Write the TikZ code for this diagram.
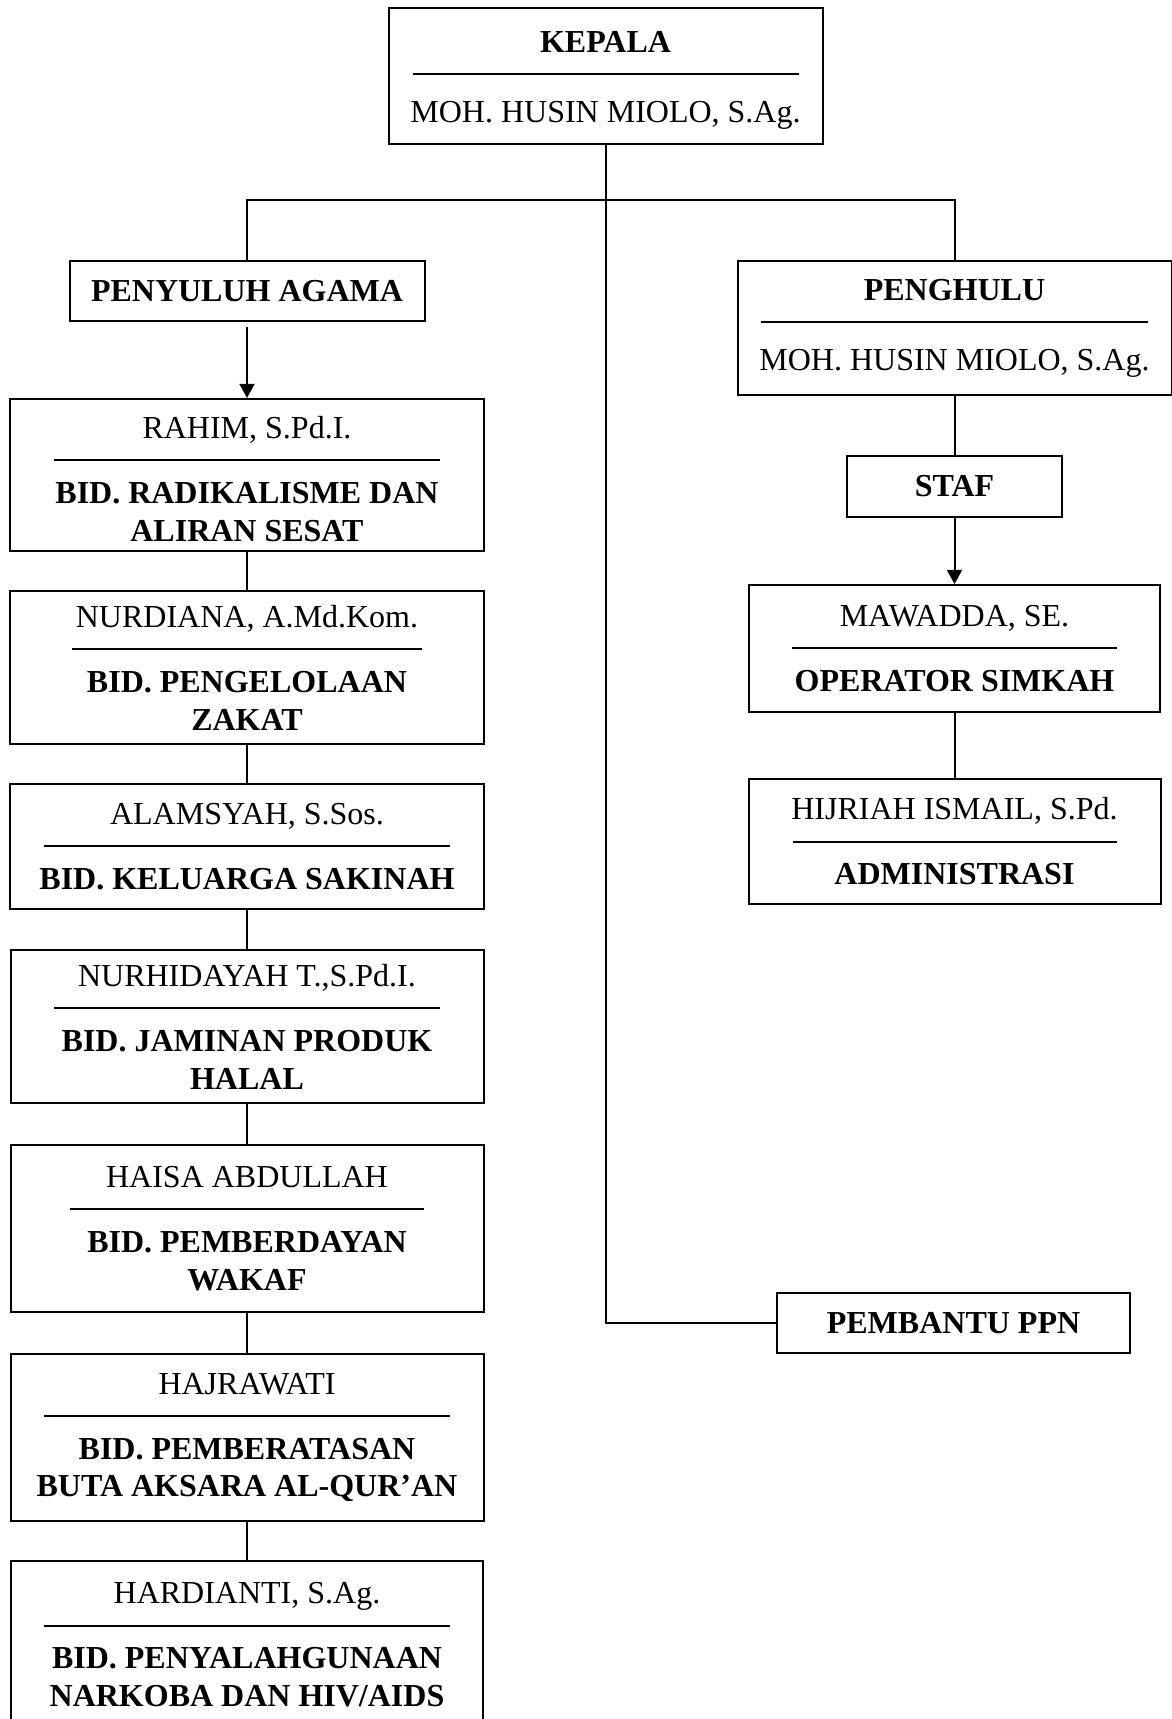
\documentclass[tikz,border=0pt]{standalone}
\usepackage{fontspec}
\setmainfont{Liberation Serif}
\usetikzlibrary{arrows.meta}
\newcommand{\divline}[1]{\rule[5.6pt]{#1}{0.75pt}}
\newcommand{\toppad}{\rule{0pt}{11.2pt}}

\begin{document}
\begin{tikzpicture}[x=0.375pt, y=-0.375pt,
    font=\fontsize{12}{14.2}\selectfont,
    unit/.style 2 args={draw, line width=0.75pt, align=center, inner sep=0pt,
        minimum width=#1*0.375pt, minimum height=#2*0.375pt},
    link/.style={line width=0.75pt},
    feed/.style={line width=0.75pt, -{Triangle[length=5.3pt,width=5.6pt]}}]
\useasboundingbox (0,0) rectangle (1172,1719);

% Kepala
\node[unit={434}{136}] (kepala) at (605.5,76)
    {\toppad\textbf{KEPALA}\\\divline{144.75pt}\\[-2.15pt]MOH. HUSIN MIOLO, S.Ag.};

% Penyuluh agama (left column)
\node[unit={355}{60}] (penyuluh) at (247,291) {\textbf{PENYULUH AGAMA}};
\node[unit={474}{152}] (rahim) at (247,475)
    {\toppad RAHIM, S.Pd.I.\\\divline{145.1pt}\\[-4pt]\textbf{BID. RADIKALISME DAN}\\\textbf{ALIRAN SESAT}};
\node[unit={474}{153}] (nurdiana) at (247,667.5)
    {NURDIANA, A.Md.Kom.\\\divline{131pt}\\[-4pt]\textbf{BID. PENGELOLAAN}\\\textbf{ZAKAT}};
\node[unit={474}{125}] (alamsyah) at (247,846.5)
    {ALAMSYAH, S.Sos.\\\divline{152.25pt}\\[-4pt]\textbf{BID. KELUARGA SAKINAH}};
\node[unit={473}{153}] (nurhidayah) at (247,1026.5)
    {NURHIDAYAH T.,S.Pd.I.\\\divline{145.1pt}\\[-4pt]\textbf{BID. JAMINAN PRODUK}\\\textbf{HALAL}};
\node[unit={473}{167}] (haisa) at (247,1228.5)
    {HAISA ABDULLAH\\\divline{133.1pt}\\[-4pt]\textbf{BID. PEMBERDAYAN}\\\textbf{WAKAF}};
\node[unit={473}{167}] (hajrawati) at (247,1437.5)
    {HAJRAWATI\\\divline{152.25pt}\\[-4pt]\textbf{BID. PEMBERATASAN}\\\textbf{BUTA AKSARA AL-QUR’AN}};
\node[unit={472}{168}] (hardianti) at (247,1645)
    {HARDIANTI, S.Ag.\\\divline{152.25pt}\\[-4pt]\textbf{BID. PENYALAHGUNAAN}\\\textbf{NARKOBA DAN HIV/AIDS}};

% Penghulu (right column)
\node[unit={434}{134}] (penghulu) at (954.5,328)
    {\textbf{PENGHULU}\\\divline{145.1pt}\\[-2.15pt]MOH. HUSIN MIOLO, S.Ag.};
\node[unit={215}{61}] (staf) at (954.5,486.5) {\textbf{STAF}};
\node[unit={411}{127}] (mawadda) at (954.5,648.5)
    {MAWADDA, SE.\\\divline{121.9pt}\\[-4pt]\textbf{OPERATOR SIMKAH}};
\node[unit={412}{125}] (hijriah) at (954.5,841.5)
    {HIJRIAH ISMAIL, S.Pd.\\\divline{121.5pt}\\[-4pt]\textbf{ADMINISTRASI}};
\node[unit={353}{60}] (pembantu) at (953.5,1323) {\textbf{PEMBANTU PPN}};

% connectors
\coordinate (fork) at (605.5,200);
\draw[link] (kepala.south) |- (pembantu.west);
\draw[link] (penyuluh.north) |- (fork) -| (penghulu.north);
\draw[feed, shorten <=2pt] (penyuluh.south) -- (rahim.north);
\draw[link] (rahim.south) -- (nurdiana.north);
\draw[link] (nurdiana.south) -- (alamsyah.north);
\draw[link] (alamsyah.south) -- (nurhidayah.north);
\draw[link] (nurhidayah.south) -- (haisa.north);
\draw[link] (haisa.south) -- (hajrawati.north);
\draw[link] (hajrawati.south) -- (hardianti.north);
\draw[link] (penghulu.south) -- (staf.north);
\draw[feed] (staf.south) -- (mawadda.north);
\draw[link] (mawadda.south) -- (hijriah.north);
\end{tikzpicture}
\end{document}
